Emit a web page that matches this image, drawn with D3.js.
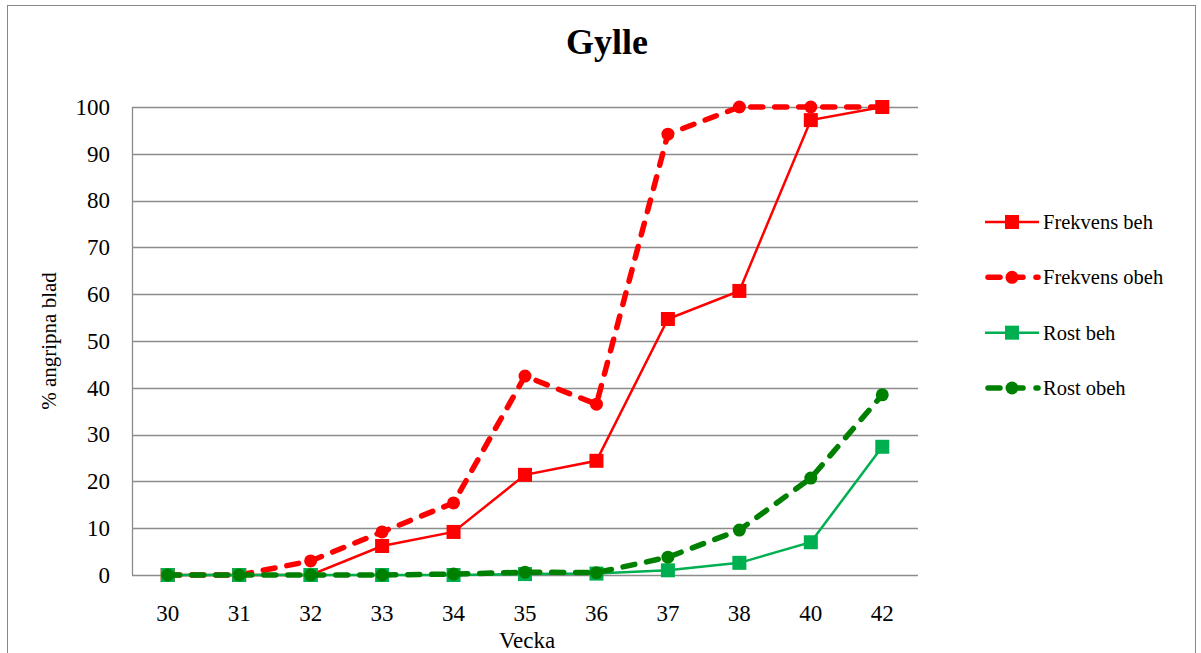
<!DOCTYPE html>
<html>
<head>
<meta charset="utf-8">
<script src="https://cdn.jsdelivr.net/npm/d3@7"></script>
<style>
  body { margin: 0; background: #fff; }
  svg text { font-family: 'Liberation Serif', 'Times New Roman', Times, serif !important; }
  .domain { display: none; }
</style>
</head>
<body>
<svg width="1201" height="653"></svg>
<script>

let weeks = ['30', '31', '32', '33', '34', '35', '36', '37', '38', '40', '42'];
let frekvensBeh  = [0, 0, 0, 6.2, 9.2, 21.4, 24.4, 54.7, 60.7, 97.2, 100];
let frekvensObeh = [0, 0, 3, 9.2, 15.4, 42.5, 36.5, 94.2, 100, 100, 100];
let rostBeh      = [0, 0, 0, 0, 0, 0.2, 0.3, 1, 2.6, 7, 27.4];
let rostObeh     = [0, 0, 0, 0, 0.2, 0.6, 0.5, 3.8, 9.6, 20.7, 38.5];
let yTicks = d3.range(0, 101, 10);

let series = [
  { name: 'Frekvens beh',  values: frekvensBeh,  color: '#ff0000', dashed: false, marker: 'square' },
  { name: 'Frekvens obeh', values: frekvensObeh, color: '#ff0000', dashed: true,  marker: 'circle' },
  { name: 'Rost beh',      values: rostBeh,      color: '#00b050', dashed: false, marker: 'square' },
  { name: 'Rost obeh',     values: rostObeh,     color: '#008000', dashed: true,  marker: 'circle' }
];

let svg = d3.select('svg');

// outer chart frame
svg.append('rect')
   .attr('x', 7.5).attr('y', 5.5)
   .attr('width', 1188).attr('height', 660)
   .attr('fill', 'none')
   .attr('stroke', '#888')
   .attr('stroke-width', 1);

let xScale = d3.scaleBand()
               .domain(weeks)
               .range([132, 918]);

let yScale = d3.scaleLinear()
               .domain([0, 100])
               .range([575, 107]);

let xMid = function(d) { return xScale(d) + xScale.bandwidth() / 2; };

// gridlines
svg.append('g')
   .selectAll('line')
   .data(yTicks)
   .join('line')
   .attr('x1', 132).attr('x2', 918)
   .attr('y1', function(d) { return Math.round(yScale(d)) + 0.5; })
   .attr('y2', function(d) { return Math.round(yScale(d)) + 0.5; })
   .attr('stroke', '#8c8c8c')
   .attr('stroke-width', 1.3);

// y axis line
svg.append('line')
   .attr('x1', 132.5).attr('x2', 132.5)
   .attr('y1', 107).attr('y2', 575)
   .attr('stroke', '#8c8c8c')
   .attr('stroke-width', 1.3);

let yAxis = d3.axisLeft(yScale)
              .tickValues(yTicks)
              .tickSize(0)
              .tickPadding(22);

svg.append('g')
   .attr('transform', 'translate(132,0)')
   .call(yAxis)
   .attr('font-size', 23)
   .selectAll('text')
   .attr('fill', '#000');

let xAxis = d3.axisBottom(xScale)
              .tickSize(0)
              .tickPadding(30);

svg.append('g')
   .attr('transform', 'translate(0,575)')
   .call(xAxis)
   .attr('font-size', 23)
   .selectAll('text')
   .attr('fill', '#000');

// titles
svg.append('text')
   .attr('x', 607).attr('y', 54)
   .attr('text-anchor', 'middle')
   .attr('font-size', 36)
   .attr('font-weight', 'bold')
   .text('Gylle');

svg.append('text')
   .attr('x', 527).attr('y', 648)
   .attr('text-anchor', 'middle')
   .attr('font-size', 23)
   .text('Vecka');

svg.append('text')
   .attr('transform', 'translate(56,341) rotate(-90)')
   .attr('text-anchor', 'middle')
   .attr('font-size', 21)
   .text('% angripna blad');

// series lines and markers
function drawMarker(g, s, x, y) {
  if (s.marker == 'square') {
    g.append('rect')
     .attr('x', x - 7).attr('y', y - 7)
     .attr('width', 14).attr('height', 14)
     .attr('fill', s.color);
  } else {
    g.append('circle')
     .attr('cx', x).attr('cy', y)
     .attr('r', 6.5)
     .attr('fill', s.color);
  }
}

series.forEach(function(s) {
  let line = d3.line()
               .x(function(d, i) { return xMid(weeks[i]); })
               .y(function(d) { return yScale(d); });

  let g = svg.append('g');

  g.append('path')
   .attr('d', line(s.values))
   .attr('fill', 'none')
   .attr('stroke', s.color)
   .attr('stroke-width', s.dashed ? 5.5 : 2.5)
   .attr('stroke-linecap', s.dashed ? 'round' : 'butt')
   .attr('stroke-dasharray', s.dashed ? '12,12' : null);

  s.values.forEach(function(v, i) {
    drawMarker(g, s, xMid(weeks[i]), yScale(v));
  });
});

// legend
let legendY = d3.scalePoint()
                .domain(series.map(function(s) { return s.name; }))
                .range([222, 388]);

series.forEach(function(s) {
  let y = legendY(s.name);
  let g = svg.append('g');
  if (s.dashed) {
    g.append('line')
     .attr('x1', 988).attr('x2', 1000).attr('y1', y).attr('y2', y)
     .attr('stroke', s.color).attr('stroke-width', 5.5).attr('stroke-linecap', 'round');
    g.append('line')
     .attr('x1', 1012).attr('x2', 1023).attr('y1', y).attr('y2', y)
     .attr('stroke', s.color).attr('stroke-width', 5.5).attr('stroke-linecap', 'round');
    g.append('line')
     .attr('x1', 1036).attr('x2', 1038).attr('y1', y).attr('y2', y)
     .attr('stroke', s.color).attr('stroke-width', 5.5).attr('stroke-linecap', 'round');
  } else {
    g.append('line')
     .attr('x1', 985).attr('x2', 1039).attr('y1', y).attr('y2', y)
     .attr('stroke', s.color).attr('stroke-width', 2.5);
  }
  drawMarker(g, s, 1012, y);
  g.append('text')
   .attr('x', 1043).attr('y', y + 7)
   .attr('font-size', 20.5)
   .text(s.name);
});

</script>
</body>
</html>
